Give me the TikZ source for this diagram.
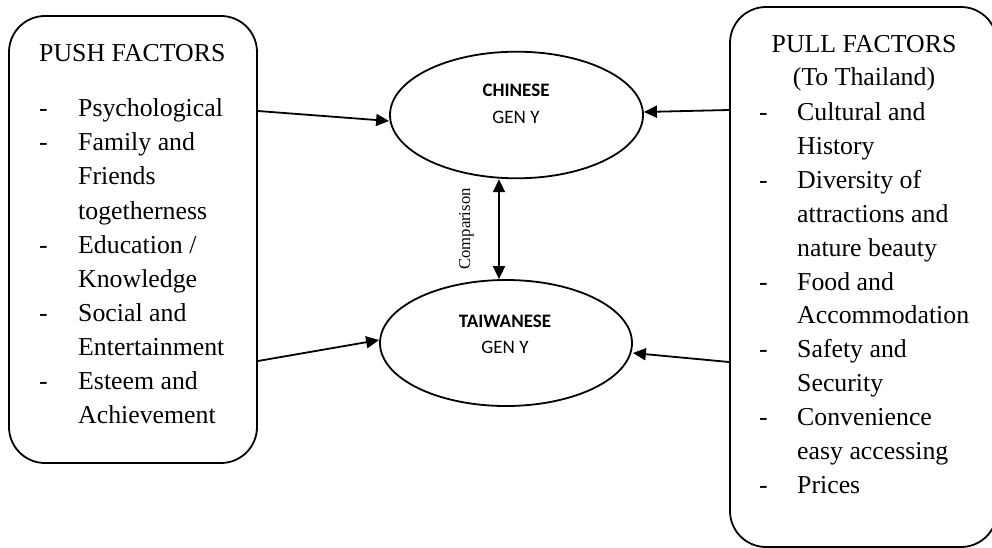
\documentclass[tikz,border=0pt]{standalone}
\usepackage{fontspec}
\setmainfont{Liberation Serif}
\newfontfamily\calib{Carlito}
\usetikzlibrary{arrows.meta,shapes.geometric}
\begin{document}
\begin{tikzpicture}[x=1pt,y=-1pt,
  box/.style={draw, line width=1.8pt, rounded corners=36pt, inner sep=0pt},
  oval/.style={draw, ellipse, line width=1.8pt, inner sep=0pt},
  item/.style={anchor=base west, inner sep=0pt, font=\fontsize{25.8}{34}\selectfont},
  head/.style={anchor=base, inner sep=0pt, font=\fontsize{25.8}{34}\selectfont},
  labb/.style={anchor=base, inner sep=0pt, font=\calib\bfseries\fontsize{19}{22}\selectfont},
  labr/.style={anchor=base, inner sep=0pt, font=\calib\fontsize{19}{22}\selectfont},
  tip/.tip={Triangle[length=13pt,width=12pt]},
  conn/.style={line width=1.8pt, -tip}
]
\useasboundingbox (0,0) rectangle (992,548);
\clip (0,0) rectangle (992,548);

% boxes
\node[box, minimum width=248pt, minimum height=447pt] (push) at (133,239.5) {};
\node[box, minimum width=267pt, minimum height=540pt] (pull) at (863.5,277) {};

% ellipses
\node[oval, minimum width=253pt, minimum height=126.6pt] (chinese) at (516.5,115) {};
\node[oval, minimum width=252pt, minimum height=126pt] (taiwan) at (506,343) {};

% ellipse labels
\node[labb] (cn1) at (516,97) {CHINESE};
\node[labr] (cn2) at (516,124) {GEN Y};
\node[labb] (tw1) at (505,327) {TAIWANESE};
\node[labr] (tw2) at (505,353) {GEN Y};

% push factors text
\node[item] (pushh) at (39,62) {PUSH FACTORS};
\foreach \t [count=\i] in {{Psychological},{Family and},{Friends},{togetherness},{Education /},{Knowledge},{Social and},{Entertainment},{Esteem and},{Achievement}}
  \node[item] (pl\i) at (78,{117+34*(\i-1)}) {\t};
\foreach \i in {1,2,5,7,9}
  \node[item] (pd\i) at (39,{117+34*(\i-1)}) {-};

% pull factors text
\node[head] (pullh) at (864,53) {PULL FACTORS};
\node[head] (pullt) at (864,86) {(To Thailand)};
\foreach \t [count=\i] in {{Cultural and},{History},{Diversity of},{attractions and},{nature beauty},{Food and},{Accommodation},{Safety and},{Security},{Convenience},{easy accessing},{Prices}}
  \node[item] (rl\i) at (797,{120.5+33.9*(\i-1)}) {\t};
\foreach \i in {1,3,6,8,10,12}
  \node[item] (rd\i) at (759,{120.5+33.9*(\i-1)}) {-};

% connectors
\draw[conn] (push.east |- 0,111) -- ([yshift=-6pt]chinese.west);
\draw[conn] (push.east |- 0,361) -- ([yshift=3pt]taiwan.west);
\draw[conn] (pull.west |- 0,110) -- ([yshift=3pt]chinese.east);
\draw[conn] (pull.west |- 0,362) -- ([yshift=-10pt]taiwan.east);
\draw[line width=1.8pt, tip-tip] ([xshift=-17.5pt]chinese.south) -- ([xshift=-7pt]taiwan.north);
\node[rotate=90, anchor=base, inner sep=0pt, font=\fontsize{16.7}{20}\selectfont] (cmp) at (470,229) {Comparison};
\end{tikzpicture}
\end{document}
